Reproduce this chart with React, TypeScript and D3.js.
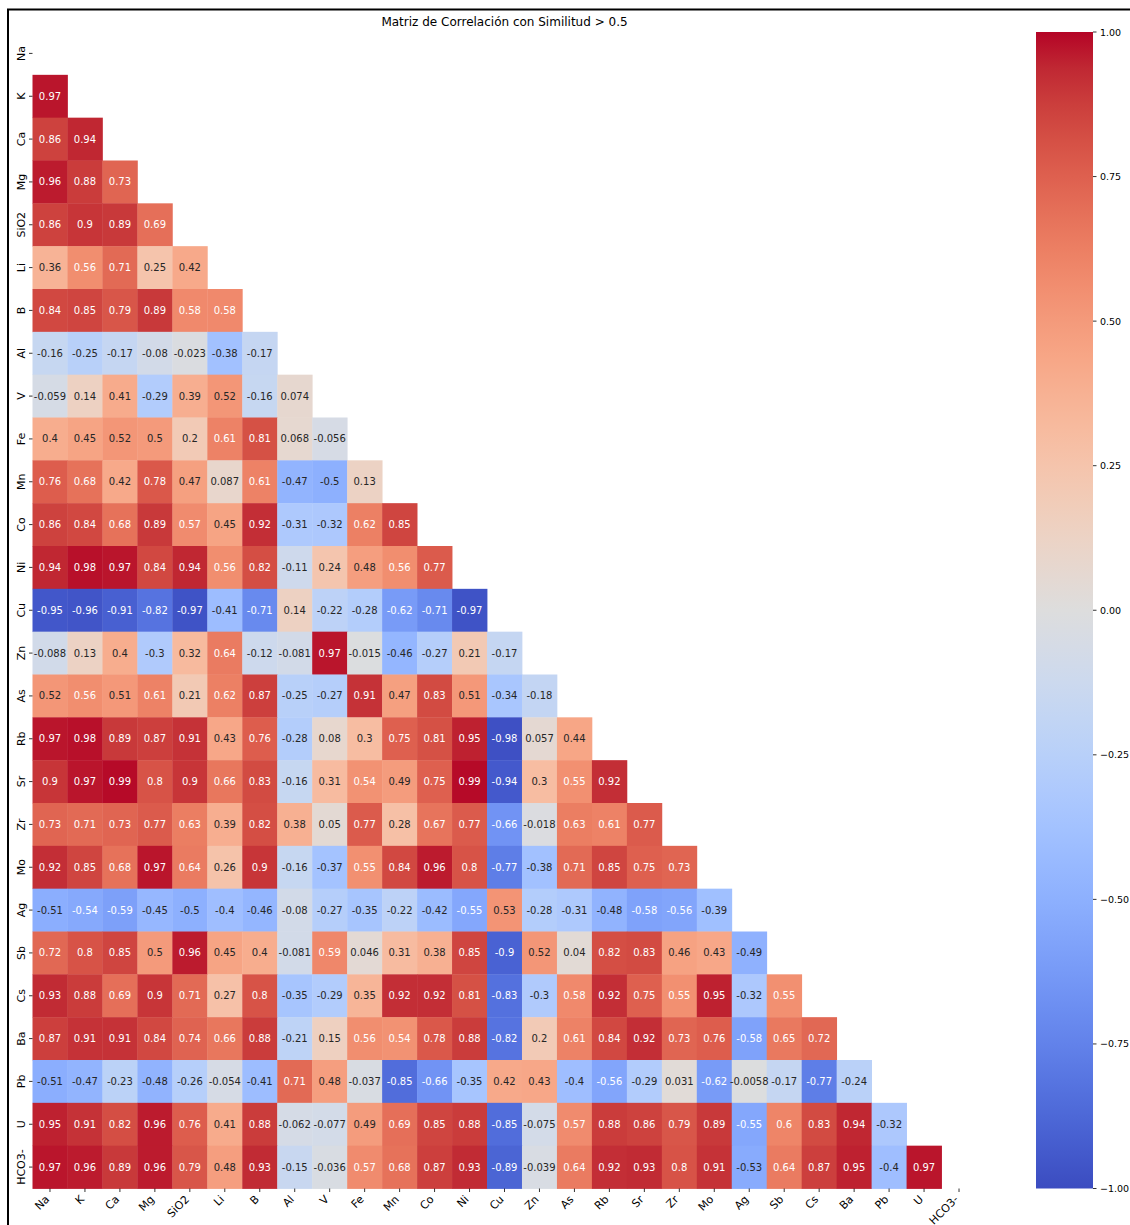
import React, { useEffect, useRef } from 'react';
import * as d3 from 'd3';

// Variables (rows and columns share the same order)
const variables = [
  'Na', 'K', 'Ca', 'Mg', 'SiO2', 'Li', 'B', 'Al', 'V', 'Fe', 'Mn', 'Co', 'Ni', 'Cu',
  'Zn', 'As', 'Rb', 'Sr', 'Zr', 'Mo', 'Ag', 'Sb', 'Cs', 'Ba', 'Pb', 'U', 'HCO3-',
];

// Lower triangle of the correlation matrix, one array per row (diagonal masked)
const rowNa: number[] = [];
const rowK = [0.97];
const rowCa = [0.86, 0.94];
const rowMg = [0.96, 0.88, 0.73];
const rowSiO2 = [0.86, 0.9, 0.89, 0.69];
const rowLi = [0.36, 0.56, 0.71, 0.25, 0.42];
const rowB = [0.84, 0.85, 0.79, 0.89, 0.58, 0.58];
const rowAl = [-0.16, -0.25, -0.17, -0.08, -0.023, -0.38, -0.17];
const rowV = [-0.059, 0.14, 0.41, -0.29, 0.39, 0.52, -0.16, 0.074];
const rowFe = [0.4, 0.45, 0.52, 0.5, 0.2, 0.61, 0.81, 0.068, -0.056];
const rowMn = [0.76, 0.68, 0.42, 0.78, 0.47, 0.087, 0.61, -0.47, -0.5, 0.13];
const rowCo = [0.86, 0.84, 0.68, 0.89, 0.57, 0.45, 0.92, -0.31, -0.32, 0.62, 0.85];
const rowNi = [0.94, 0.98, 0.97, 0.84, 0.94, 0.56, 0.82, -0.11, 0.24, 0.48, 0.56, 0.77];
const rowCu = [-0.95, -0.96, -0.91, -0.82, -0.97, -0.41, -0.71, 0.14, -0.22, -0.28, -0.62, -0.71, -0.97];
const rowZn = [-0.088, 0.13, 0.4, -0.3, 0.32, 0.64, -0.12, -0.081, 0.97, -0.015, -0.46, -0.27, 0.21, -0.17];
const rowAs = [0.52, 0.56, 0.51, 0.61, 0.21, 0.62, 0.87, -0.25, -0.27, 0.91, 0.47, 0.83, 0.51, -0.34, -0.18];
const rowRb = [0.97, 0.98, 0.89, 0.87, 0.91, 0.43, 0.76, -0.28, 0.08, 0.3, 0.75, 0.81, 0.95, -0.98, 0.057, 0.44];
const rowSr = [0.9, 0.97, 0.99, 0.8, 0.9, 0.66, 0.83, -0.16, 0.31, 0.54, 0.49, 0.75, 0.99, -0.94, 0.3, 0.55, 0.92];
const rowZr = [0.73, 0.71, 0.73, 0.77, 0.63, 0.39, 0.82, 0.38, 0.05, 0.77, 0.28, 0.67, 0.77, -0.66, -0.018, 0.63, 0.61, 0.77];
const rowMo = [0.92, 0.85, 0.68, 0.97, 0.64, 0.26, 0.9, -0.16, -0.37, 0.55, 0.84, 0.96, 0.8, -0.77, -0.38, 0.71, 0.85, 0.75, 0.73];
const rowAg = [-0.51, -0.54, -0.59, -0.45, -0.5, -0.4, -0.46, -0.08, -0.27, -0.35, -0.22, -0.42, -0.55, 0.53, -0.28, -0.31, -0.48, -0.58, -0.56, -0.39];
const rowSb = [0.72, 0.8, 0.85, 0.5, 0.96, 0.45, 0.4, -0.081, 0.59, 0.046, 0.31, 0.38, 0.85, -0.9, 0.52, 0.04, 0.82, 0.83, 0.46, 0.43, -0.49];
const rowCs = [0.93, 0.88, 0.69, 0.9, 0.71, 0.27, 0.8, -0.35, -0.29, 0.35, 0.92, 0.92, 0.81, -0.83, -0.3, 0.58, 0.92, 0.75, 0.55, 0.95, -0.32, 0.55];
const rowBa = [0.87, 0.91, 0.91, 0.84, 0.74, 0.66, 0.88, -0.21, 0.15, 0.56, 0.54, 0.78, 0.88, -0.82, 0.2, 0.61, 0.84, 0.92, 0.73, 0.76, -0.58, 0.65, 0.72];
const rowPb = [-0.51, -0.47, -0.23, -0.48, -0.26, -0.054, -0.41, 0.71, 0.48, -0.037, -0.85, -0.66, -0.35, 0.42, 0.43, -0.4, -0.56, -0.29, 0.031, -0.62, -0.0058, -0.17, -0.77, -0.24];
const rowU = [0.95, 0.91, 0.82, 0.96, 0.76, 0.41, 0.88, -0.062, -0.077, 0.49, 0.69, 0.85, 0.88, -0.85, -0.075, 0.57, 0.88, 0.86, 0.79, 0.89, -0.55, 0.6, 0.83, 0.94, -0.32];
const rowHCO3 = [0.97, 0.96, 0.89, 0.96, 0.79, 0.48, 0.93, -0.15, -0.036, 0.57, 0.68, 0.87, 0.93, -0.89, -0.039, 0.64, 0.92, 0.93, 0.8, 0.91, -0.53, 0.64, 0.87, 0.95, -0.4, 0.97];

const rows = [
  rowNa, rowK, rowCa, rowMg, rowSiO2, rowLi, rowB, rowAl, rowV, rowFe, rowMn, rowCo, rowNi, rowCu,
  rowZn, rowAs, rowRb, rowSr, rowZr, rowMo, rowAg, rowSb, rowCs, rowBa, rowPb, rowU, rowHCO3,
];

const colorbarTicks = [1, 0.75, 0.5, 0.25, 0, -0.25, -0.5, -0.75, -1];

// coolwarm colormap anchors (Moreland diverging map)
const coolwarm = [
  [59, 76, 192], [68, 90, 204], [77, 104, 215], [87, 117, 225], [98, 130, 234], [108, 142, 241],
  [119, 154, 247], [130, 165, 251], [141, 176, 254], [152, 185, 255], [163, 194, 255], [174, 201, 253],
  [184, 208, 249], [194, 213, 244], [204, 217, 238], [213, 219, 230], [221, 221, 221], [229, 216, 209],
  [236, 211, 197], [241, 204, 184], [245, 196, 172], [247, 187, 159], [247, 177, 147], [247, 166, 134],
  [244, 154, 123], [241, 141, 111], [236, 127, 99], [229, 112, 89], [222, 96, 79], [213, 80, 69],
  [203, 62, 60], [192, 40, 51], [180, 4, 38],
];

const FONT = '"DejaVu Sans", sans-serif';

const relLum = (c: string) => {
  const { r, g, b } = d3.rgb(c);
  const f = (v: number) => {
    const s = v / 255;
    return s <= 0.03928 ? s / 12.92 : Math.pow((s + 0.055) / 1.055, 2.4);
  };
  return 0.2126 * f(r) + 0.7152 * f(g) + 0.0722 * f(b);
};

const App: React.FC = () => {
  const ref = useRef<SVGSVGElement>(null);

  useEffect(() => {
    if (!ref.current) return;
    const svg = d3.select(ref.current);
    svg.selectAll('*').remove();

    const left = 32.5, right = 976.5, top = 32, bottom = 1188.5;

    const x = d3.scaleBand<string>().domain(variables).range([left, right]);
    const y = d3.scaleBand<string>().domain(variables).range([top, bottom]);

    const color = d3.scaleLinear<string>()
      .domain(coolwarm.map((_, i) => -1 + (2 * i) / (coolwarm.length - 1)))
      .range(coolwarm.map(c => `rgb(${c[0]},${c[1]},${c[2]})`))
      .interpolate(d3.interpolateRgb)
      .clamp(true);

    // frame
    svg.append('path')
      .attr('d', 'M8,1230 V9.5 H1135')
      .attr('fill', 'none')
      .attr('stroke', '#000')
      .attr('stroke-width', 2);

    // cells
    const cells = rows.flatMap((vals, ri) =>
      vals.map((v, ci) => ({ row: variables[ri], col: variables[ci], v })));

    const g = svg.append('g');
    g.selectAll('rect.cell')
      .data(cells)
      .enter()
      .append('rect')
      .attr('class', 'cell')
      .attr('x', d => x(d.col)!)
      .attr('y', d => y(d.row)!)
      .attr('width', x.bandwidth() + 0.4)
      .attr('height', y.bandwidth() + 0.4)
      .attr('fill', d => color(d.v));

    g.selectAll('text.annot')
      .data(cells)
      .enter()
      .append('text')
      .attr('class', 'annot')
      .attr('x', d => x(d.col)! + x.bandwidth() / 2)
      .attr('y', d => y(d.row)! + y.bandwidth() / 2)
      .attr('text-anchor', 'middle')
      .attr('dominant-baseline', 'central')
      .attr('font-family', FONT)
      .attr('font-size', 10)
      .attr('fill', d => (relLum(color(d.v)) > 0.408 ? 'rgb(38,38,38)' : '#fff'))
      .text(d => String(d.v));

    // y axis ticks + labels
    variables.forEach(name => {
      const cy = y(name)! + y.bandwidth() / 2;
      svg.append('line')
        .attr('x1', left - 3.5).attr('x2', left)
        .attr('y1', cy).attr('y2', cy)
        .attr('stroke', '#000').attr('stroke-width', 0.8);
      svg.append('text')
        .attr('transform', `translate(${left - 7.3},${cy}) rotate(-90)`)
        .attr('text-anchor', 'middle')
        .attr('font-family', FONT)
        .attr('font-size', 11)
        .attr('fill', '#000')
        .text(name);
    });

    // x axis ticks + labels
    variables.forEach(name => {
      const cx = x(name)! + x.bandwidth() / 2;
      svg.append('line')
        .attr('x1', cx).attr('x2', cx)
        .attr('y1', bottom).attr('y2', bottom + 3.5)
        .attr('stroke', '#000').attr('stroke-width', 0.8);
      svg.append('text')
        .attr('transform', `translate(${cx},${bottom + 11.5}) rotate(-45)`)
        .attr('text-anchor', 'end')
        .attr('font-family', FONT)
        .attr('font-size', 11)
        .attr('fill', '#000')
        .text(name);
    });

    // title
    svg.append('text')
      .attr('x', (left + right) / 2)
      .attr('y', 26)
      .attr('text-anchor', 'middle')
      .attr('font-family', FONT)
      .attr('font-size', 12)
      .attr('fill', '#000')
      .text('Matriz de Correlación con Similitud > 0.5');

    // colorbar
    const cbLeft = 1036, cbRight = 1093;
    const cbY = d3.scaleLinear().domain([-1, 1]).range([bottom, top]);
    const defs = svg.append('defs');
    const grad = defs.append('linearGradient')
      .attr('id', 'cbgrad')
      .attr('x1', 0).attr('y1', 1).attr('x2', 0).attr('y2', 0);
    coolwarm.forEach((c, i) => {
      grad.append('stop')
        .attr('offset', `${(i / (coolwarm.length - 1)) * 100}%`)
        .attr('stop-color', `rgb(${c[0]},${c[1]},${c[2]})`);
    });
    svg.append('rect')
      .attr('x', cbLeft)
      .attr('y', cbY(1))
      .attr('width', cbRight - cbLeft)
      .attr('height', cbY(-1) - cbY(1))
      .attr('fill', 'url(#cbgrad)');

    colorbarTicks.forEach(t => {
      const ty = cbY(t);
      svg.append('line')
        .attr('x1', cbRight).attr('x2', cbRight + 3.5)
        .attr('y1', ty).attr('y2', ty)
        .attr('stroke', '#000').attr('stroke-width', 0.8);
      svg.append('text')
        .attr('x', cbRight + 7)
        .attr('y', ty)
        .attr('dominant-baseline', 'central')
        .attr('font-family', FONT)
        .attr('font-size', 9.5)
        .attr('fill', '#000')
        .text(t.toFixed(2).replace('-', '\u2212'));
    });
  }, []);

  return (
    <svg
      ref={ref}
      width={1130}
      height={1225}
      style={{ position: 'absolute', left: 0, top: 0, background: '#fff' }}
    />
  );
};

export default App;
